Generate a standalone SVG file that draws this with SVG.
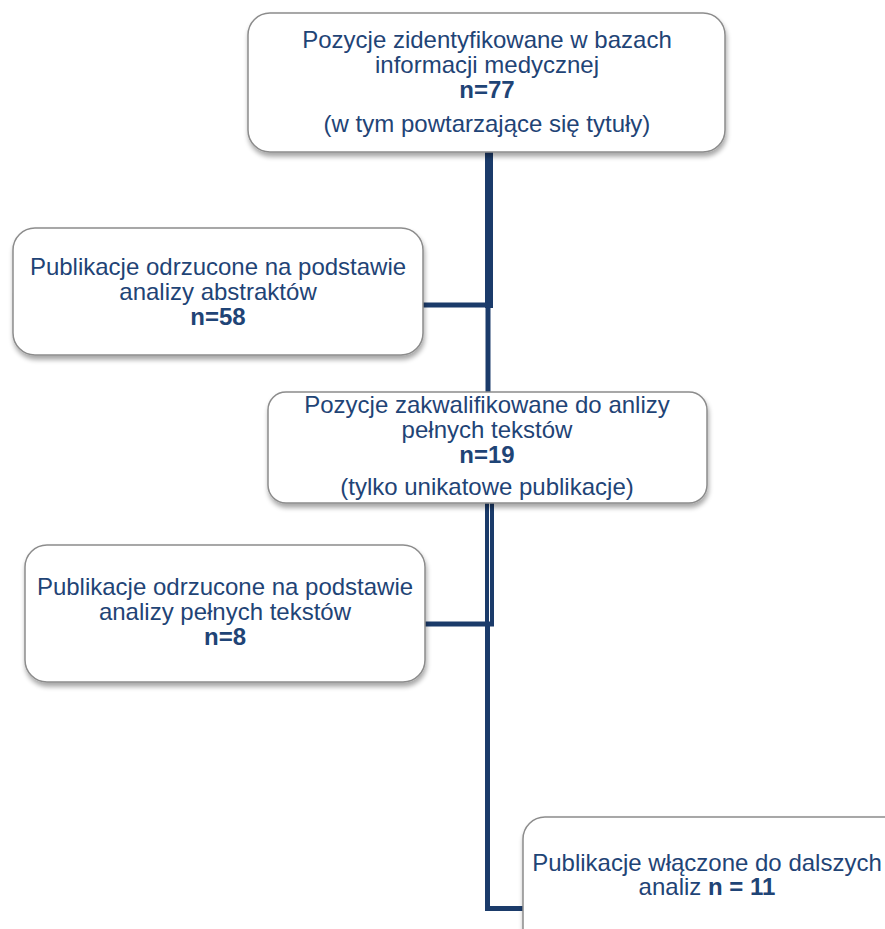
<svg xmlns="http://www.w3.org/2000/svg" width="885" height="929" viewBox="0 0 885 929">
<defs>
<filter id="sh" x="-10%" y="-10%" width="120%" height="130%">
<feGaussianBlur in="SourceAlpha" stdDeviation="2.5"/>
<feOffset dx="1" dy="4" result="b"/>
<feComponentTransfer><feFuncA type="linear" slope="0.35"/></feComponentTransfer>
<feMerge><feMergeNode/><feMergeNode in="SourceGraphic"/></feMerge>
</filter>
</defs>
<style>
.box{fill:#ffffff;stroke:#8c8c8c;stroke-width:1.5;filter:url(#sh)}
.t{font-family:"Liberation Sans",Arial,sans-serif;font-size:24px;fill:#1f4476;text-anchor:middle}
.b{font-weight:bold}
.c{stroke:#1b3b6a;fill:none}
</style>
<rect width="885" height="929" fill="#ffffff"/>
<g id="connectors">
<line class="c" x1="489" y1="152" x2="489" y2="308" stroke-width="8"/>
<line class="c" x1="488" y1="305" x2="488" y2="392" stroke-width="5"/>
<line class="c" x1="423" y1="305" x2="492" y2="305" stroke-width="5"/>
<line class="c" x1="487" y1="503" x2="487" y2="625" stroke-width="4"/>
<line class="c" x1="492" y1="503" x2="492" y2="625" stroke-width="4"/>
<line class="c" x1="425" y1="624" x2="494" y2="624" stroke-width="5"/>
<line class="c" x1="487.5" y1="622" x2="487.5" y2="910" stroke-width="5"/>
<line class="c" x1="485" y1="908.5" x2="524" y2="908.5" stroke-width="5"/>
</g>
<g id="n1">
<rect class="box" x="248" y="13" width="477" height="139" rx="22"/>
<text class="t" x="487" y="48">Pozycje zidentyfikowane w bazach</text>
<text class="t" x="487" y="73">informacji medycznej</text>
<text class="t b" x="487" y="98">n=77</text>
<text class="t" x="487" y="132">(w tym powtarzające się tytuły)</text>
</g>
<g id="n2">
<rect class="box" x="13" y="228" width="410" height="127" rx="22"/>
<text class="t" x="218" y="275">Publikacje odrzucone na podstawie</text>
<text class="t" x="218" y="300">analizy abstraktów</text>
<text class="t b" x="218" y="325">n=58</text>
</g>
<g id="n3">
<rect class="box" x="268" y="392" width="439" height="111" rx="18"/>
<text class="t" x="487" y="413">Pozycje zakwalifikowane do anlizy</text>
<text class="t" x="487" y="438">pełnych tekstów</text>
<text class="t b" x="487" y="463">n=19</text>
<text class="t" x="487" y="495">(tylko unikatowe publikacje)</text>
</g>
<g id="n4">
<rect class="box" x="25" y="545" width="400" height="137" rx="22"/>
<text class="t" x="225" y="595">Publikacje odrzucone na podstawie</text>
<text class="t" x="225" y="620">analizy pełnych tekstów</text>
<text class="t b" x="225" y="645">n=8</text>
</g>
<g id="n5">
<rect class="box" x="523" y="817" width="390" height="140" rx="22"/>
<text class="t" x="707" y="871">Publikacje włączone do dalszych</text>
<text class="t" x="707" y="895">analiz <tspan class="b">n = 11</tspan></text>
</g>
</svg>
